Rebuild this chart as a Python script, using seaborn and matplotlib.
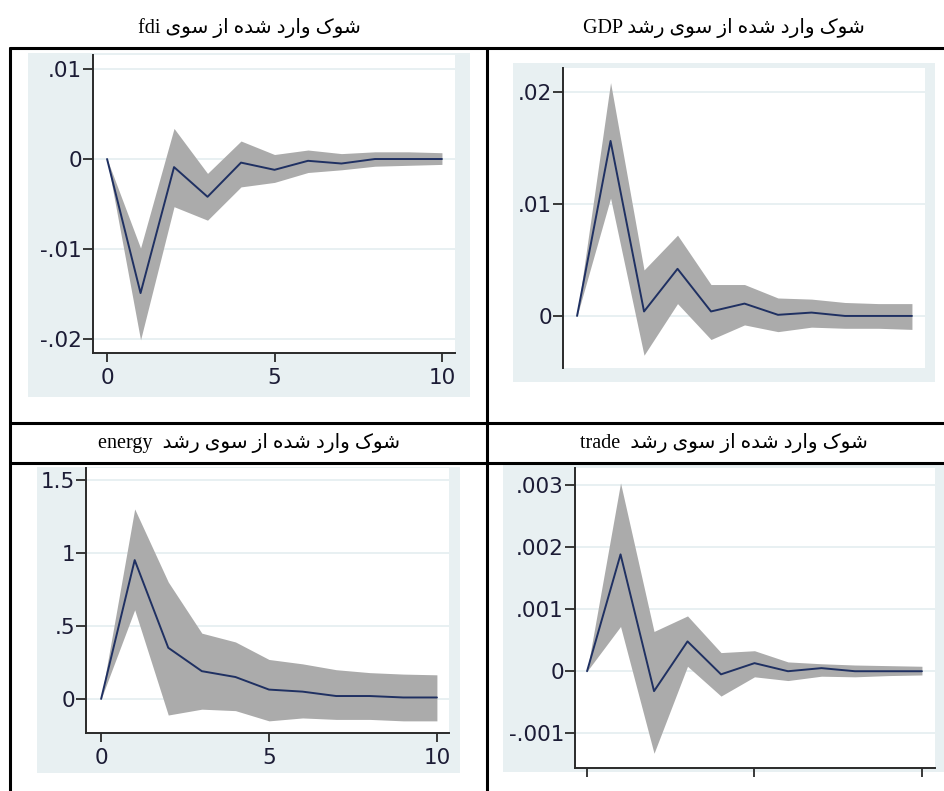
import seaborn as sns
import matplotlib.pyplot as plt
from matplotlib.lines import Line2D
from matplotlib.patches import Rectangle

# impulse responses (step 0..10) with confidence bands
steps = [0, 1, 2, 3, 4, 5, 6, 7, 8, 9, 10]

fdi_irf = [0, -0.0149, -0.0009, -0.0042, -0.0004, -0.0012, -0.0002, -0.0005, 0.0, 0.0, 0.0]
fdi_lo = [0, -0.0201, -0.0053, -0.0068, -0.0031, -0.0026, -0.0015, -0.0012, -0.0008, -0.0007, -0.0006]
fdi_hi = [0, -0.0099, 0.0034, -0.0016, 0.0020, 0.0005, 0.0010, 0.0006, 0.0008, 0.0008, 0.0007]

gdp_irf = [0, 0.0156, 0.0004, 0.0042, 0.0004, 0.0011, 0.0001, 0.0003, 0.0, 0.0, 0.0]
gdp_lo = [0, 0.0105, -0.0035, 0.0011, -0.0021, -0.0008, -0.0014, -0.0010, -0.0011, -0.0011, -0.0012]
gdp_hi = [0, 0.0208, 0.0041, 0.0072, 0.0028, 0.0028, 0.0016, 0.0015, 0.0012, 0.0011, 0.0011]

energy_irf = [0, 0.95, 0.35, 0.19, 0.15, 0.064, 0.05, 0.02, 0.02, 0.01, 0.01]
energy_lo = [0, 0.61, -0.11, -0.07, -0.08, -0.15, -0.13, -0.14, -0.14, -0.15, -0.15]
energy_hi = [0, 1.30, 0.80, 0.45, 0.39, 0.27, 0.24, 0.20, 0.18, 0.17, 0.165]

trade_irf = [0, 0.00188, -0.00032, 0.00048, -0.00005, 0.00013, 0.0, 0.00005, 0.0, 0.0, 0.0]
trade_lo = [0, 0.00072, -0.00132, 0.00008, -0.00040, -0.00009, -0.00015, -0.00008, -0.00009, -0.00007, -0.00006]
trade_hi = [0, 0.00303, 0.00064, 0.00089, 0.00030, 0.00033, 0.00015, 0.00012, 0.00010, 0.00009, 0.00008]

fdi_yticks = [0.01, 0, -0.01, -0.02]
fdi_ylabels = ['.01', '0', '-.01', '-.02']
gdp_yticks = [0.02, 0.01, 0]
gdp_ylabels = ['.02', '.01', '0']
energy_yticks = [1.5, 1, 0.5, 0]
energy_ylabels = ['1.5', '1', '.5', '0']
trade_yticks = [0.003, 0.002, 0.001, 0, -0.001]
trade_ylabels = ['.003', '.002', '.001', '0', '-.001']
xticks = [0, 5, 10]
xlabels = ['0', '5', '10']

titles = ['شوک وارد شده از سوی fdi', 'شوک وارد شده از سوی رشد GDP',
          'شوک وارد شده از سوی رشد  energy', 'شوک وارد شده از سوی رشد  trade']

# matplotlib does no arabic shaping, so pick presentation forms by hand
FORMS = {
    'ا': ('\uFE8D', '\uFE8E', None, None),
    'د': ('\uFEA9', '\uFEAA', None, None),
    'ر': ('\uFEAD', '\uFEAE', None, None),
    'ز': ('\uFEAF', '\uFEB0', None, None),
    'و': ('\uFEED', '\uFEEE', None, None),
    'س': ('\uFEB1', '\uFEB2', '\uFEB3', '\uFEB4'),
    'ش': ('\uFEB5', '\uFEB6', '\uFEB7', '\uFEB8'),
    'ه': ('\uFEE9', '\uFEEA', '\uFEEB', '\uFEEC'),
    'ک': ('\uFB8E', '\uFB8F', '\uFB90', '\uFB91'),
    'ی': ('\uFBFC', '\uFBFD', '\uFBFE', '\uFBFF'),
}


def shape_word(w):
    out = []
    for i, c in enumerate(w):
        iso, fin, ini, med = FORMS[c]
        prev = i > 0 and FORMS[w[i - 1]][2] is not None
        nxt = i < len(w) - 1 and ini is not None
        if prev and nxt:
            out.append(med)
        elif prev:
            out.append(fin)
        elif nxt:
            out.append(ini)
        else:
            out.append(iso)
    return ''.join(reversed(out))


def rtl(text):
    words = text.split(' ')
    return ' '.join(shape_word(w) if w and w[0] in FORMS else w for w in reversed(words))


sns.set_theme(style='white')
plt.rcParams['font.family'] = ['DejaVu Sans']

W, H = 945, 791
fig = plt.figure(figsize=(W / 100, H / 100), dpi=100)
fig.patch.set_facecolor('white')

BG = '#E8F0F2'
NAVY = '#1F3062'
BAND = '#ABABAB'
INK = '#1c1c36'


def px_axes(x0, y0, x1, y1):
    return fig.add_axes([x0 / W, 1 - y1 / H, (x1 - x0) / W, (y1 - y0) / H])


def px_rect(x0, y0, x1, y1):
    fig.patches.append(Rectangle((x0 / W, 1 - y1 / H), (x1 - x0) / W, (y1 - y0) / H,
                                 transform=fig.transFigure, facecolor=BG, edgecolor='none', zorder=-1))


def panel(bg, box, xlim, ylim, irf, lo, hi, yticks, ylabels, xmode):
    px_rect(*bg)
    ax = px_axes(*box)
    ax.set_zorder(1)
    ax.set_facecolor('white')
    ax.fill_between(steps, lo, hi, color=BAND, linewidth=0, zorder=2)
    sns.lineplot(x=steps, y=irf, ax=ax, color=NAVY, linewidth=1.4, zorder=3)
    ax.set_xlim(*xlim)
    ax.set_ylim(*ylim)
    for v in yticks:
        ax.axhline(v, color='#E6EFF1', linewidth=1.3, zorder=1)
    ax.set_yticks(yticks)
    ax.set_yticklabels(ylabels)
    for s in ['top', 'right']:
        ax.spines[s].set_visible(False)
    for s in ['left', 'bottom']:
        ax.spines[s].set_color('#2a2a2a')
        ax.spines[s].set_linewidth(1.4)
    ax.tick_params(axis='y', length=7, width=1.3, color='#2a2a2a', pad=1,
                   labelsize=15.5, labelcolor=INK, left=True)
    if xmode == 'none':
        ax.spines['bottom'].set_visible(False)
        ax.set_xticks([])
    else:
        ax.set_xticks(xticks)
        ax.set_xticklabels(xlabels if xmode == 'labels' else ['', '', ''])
        ax.tick_params(axis='x', length=6.5, width=1.3, color='#2a2a2a', pad=4,
                       labelsize=15.5, labelcolor=INK, bottom=True)
    ax.set_xlabel('')
    ax.set_ylabel('')
    return ax


panel((28, 53, 470, 397), (93, 55, 455, 353), (-0.42, 10.39), (-0.02156, 0.01156),
      fdi_irf, fdi_lo, fdi_hi, fdi_yticks, fdi_ylabels, 'labels')
panel((513, 63, 935, 382), (563, 68, 925, 368), (-0.42, 10.39), (-0.00464, 0.0221),
      gdp_irf, gdp_lo, gdp_hi, gdp_yticks, gdp_ylabels, 'none')
panel((37, 467, 460, 773), (86, 468, 449, 733), (-0.45, 10.36), (-0.233, 1.58),
      energy_irf, energy_lo, energy_hi, energy_yticks, energy_ylabels, 'labels')
panel((503, 465, 945, 772), (575, 468, 935, 768), (-0.36, 10.39), (-0.001557, 0.00327),
      trade_irf, trade_lo, trade_hi, trade_yticks, trade_ylabels, 'ticks')

# cell titles
title_pos = [(249, 28), (724, 28), (249, 443), (724, 443)]
for t, (x, y) in zip(titles, title_pos):
    fig.text(x / W, 1 - y / H, rtl(t), ha='center', va='center', fontsize=14.5,
             family=['Liberation Serif', 'DejaVu Sans'], color='black')

# table borders
lines = [
    ((10, 945), (48, 48)), ((10, 945), (423, 423)), ((10, 945), (463, 463)),
    ((10, 10), (48, 791)), ((487, 487), (48, 791)),
]
for xs, ys in lines:
    fig.add_artist(Line2D([x / W for x in xs], [1 - y / H for y in ys],
                          transform=fig.transFigure, color='black', linewidth=2.2))

fig.savefig('out.png', dpi=100)
